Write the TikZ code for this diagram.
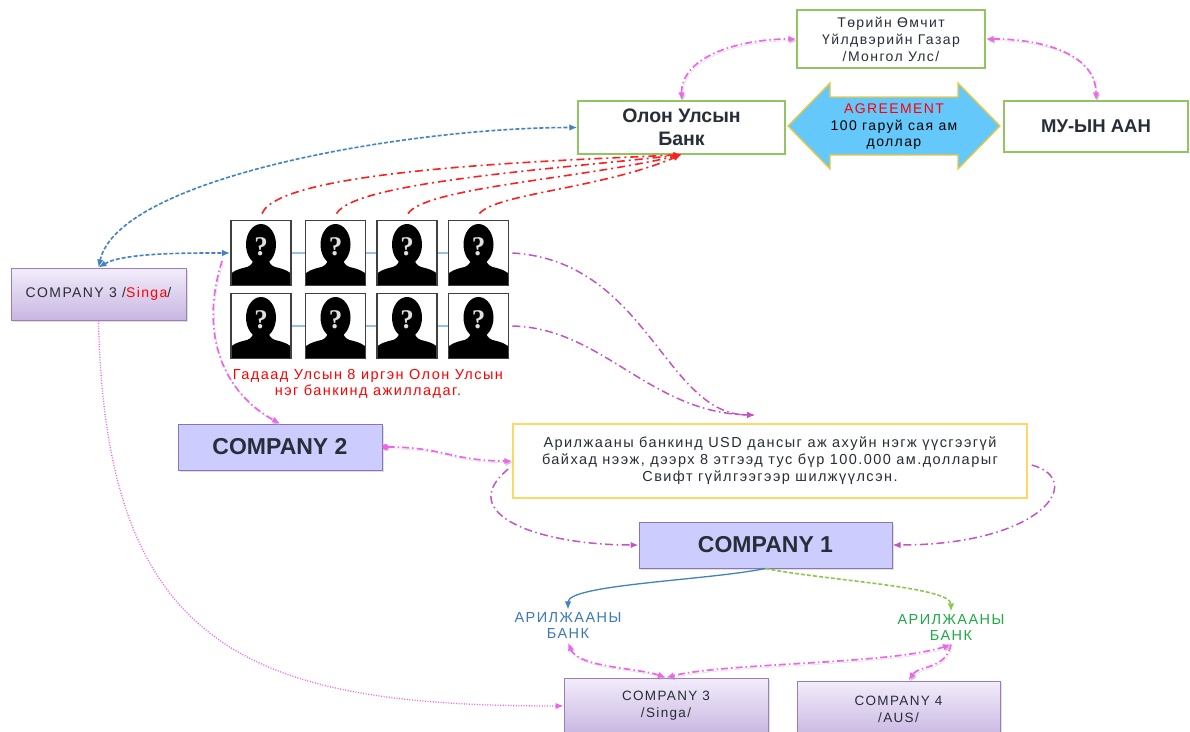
\documentclass[tikz,border=0pt]{standalone}
\usepackage{fontspec}
\setmainfont{Liberation Sans}
\newfontfamily\spfont{Liberation Sans}[LetterSpace=10]
\newfontfamily\qfont{Liberation Serif}
\usetikzlibrary{arrows.meta,shadows,calc}
\definecolor{greenB}{RGB}{146,196,100}
\definecolor{agreeFill}{RGB}{100,200,250}
\definecolor{agreeDraw}{RGB}{240,200,60}
\definecolor{txt}{RGB}{40,45,55}
\definecolor{purD}{RGB}{155,125,185}
\definecolor{purT}{RGB}{242,237,250}
\definecolor{purBt}{RGB}{200,182,226}
\definecolor{lav}{RGB}{204,204,255}
\definecolor{lavD}{RGB}{140,115,180}
\definecolor{yel}{RGB}{255,215,100}
\definecolor{pinkc}{RGB}{240,100,235}
\definecolor{purc}{RGB}{195,85,195}
\definecolor{redc}{RGB}{255,30,30}
\definecolor{blueL}{RGB}{65,130,195}
\definecolor{greenL}{RGB}{140,200,80}
\definecolor{bankblue}{RGB}{60,120,190}
\definecolor{bankgreen}{RGB}{30,170,70}
\definecolor{linkblue}{RGB}{150,190,230}
\tikzset{
  smalltext/.style={font=\spfont\fontsize{14}{17}\selectfont},
  lshadow/.style={preaction={draw=black!35, opacity=0.45, transform canvas={shift={(1.2pt,-1.8pt)}}}},
  greenbox/.style={draw=greenB, line width=1.3pt, fill=white, align=center, text=txt, inner sep=0pt},
  purbox/.style={draw=purD, line width=1pt, top color=purT, bottom color=purBt, text=txt, align=center,
     inner sep=0pt, smalltext, drop shadow={opacity=0.25, shadow xshift=2pt, shadow yshift=-2pt}},
  lavbox/.style={draw=lavD, line width=1pt, fill=lav, text=txt, inner sep=0pt,
     font=\bfseries\fontsize{23}{26}\selectfont, drop shadow={opacity=0.25, shadow xshift=2pt, shadow yshift=-2pt}},
  photobox/.style={draw=black!75, line width=1.8pt, minimum width=60pt, minimum height=65pt, inner sep=0pt},
  plink/.style={draw=linkblue, line width=1.8pt},
  pinkdd/.style={draw=pinkc, line width=1.7pt, dash pattern=on 7pt off 3pt on 1.5pt off 3pt, lshadow},
  purdd/.style={draw=purc, line width=1.5pt, dash pattern=on 8pt off 3.5pt on 1.5pt off 3.5pt},
  reddd/.style={draw=redc, line width=1.6pt, dash pattern=on 8pt off 4pt on 2pt off 4pt},
  bluedash/.style={draw=blueL, line width=1.6pt, dash pattern=on 4pt off 2pt},
  bluesolid/.style={draw=blueL, line width=1.3pt},
  greendash/.style={draw=greenL, line width=1.6pt, dash pattern=on 4pt off 2pt},
  pinkdot/.style={draw=pinkc, line width=1.3pt, dash pattern=on 1pt off 1.6pt},
  photo/.pic={
    \fill[white] (-30,-32.5) rectangle (30,32.5);
    \fill[black] (-29.5,32) -- (-29.5,20) .. controls (-24,16) and (-18,15) .. (-14,14)
       .. controls (-10,12.5) and (-8,10) .. (-7,5) -- (7,5) .. controls (8,10) and (10,12.5) .. (14,14)
       .. controls (18,15) and (24,16) .. (29.5,20) -- (29.5,32) -- cycle;
    \fill[black] (0,-8.5) ellipse [x radius=15, y radius=20.5];
    \node[text=white!88!black, font=\qfont\bfseries\fontsize{27}{27}\selectfont, inner sep=0pt] (-q) at (0,-6) {?};
    \node[photobox] (-box) at (0,0) {};
  }
}
\begin{document}
\begin{tikzpicture}[x=1pt, y=-1pt, >={Latex[length=8pt,width=6.5pt]}]
\useasboundingbox (0,0) rectangle (1190,731);
\fill[white] (0,0) rectangle (1190,731);

% top boxes
\node[greenbox, minimum width=188pt, minimum height=58pt, smalltext] (T) at (891,39)
  {Төрийн Өмчит\\Үйлдвэрийн Газар\\/Монгол Улс/};
\node[greenbox, minimum width=207pt, minimum height=53pt, font=\bfseries\fontsize{19.5}{23}\selectfont] (B) at (681.5,127.5)
  {Олон Улсын\\Банк};
\node[greenbox, minimum width=184pt, minimum height=51pt, font=\bfseries\fontsize{18.5}{22}\selectfont] (M) at (1096,126.5)
  {МУ-ЫН ААН};

% agreement double arrow
\filldraw[fill=agreeFill, draw=agreeDraw, line width=1.3pt, line join=miter]
  (788,126) -- (830,83) -- (830,97) -- (958,97) -- (958,83) -- (1000,126)
  -- (958,169) -- (958,155) -- (830,155) -- (830,169) -- cycle;
\node[align=center, smalltext, font=\spfont\fontsize{14}{16.5}\selectfont, text=black] (A) at (894,127)
  {{\color{red}AGREEMENT}\\100 гаруй сая ам\\доллар};

% left company 3
\node[purbox, minimum width=175pt, minimum height=52pt] (C3L) at (98.5,294) {COMPANY 3 /{\color{red}Singa}/};

% photos
\pic (p1) at (261,253) {photo};
\pic (p2) at (335.5,253) {photo};
\pic (p3) at (407,253) {photo};
\pic (p4) at (478.5,253) {photo};
\pic (p5) at (261,326) {photo};
\pic (p6) at (335.5,326) {photo};
\pic (p7) at (407,326) {photo};
\pic (p8) at (478.5,326) {photo};
\draw[plink] (p1-box) -- (p2-box);
\draw[plink] (p2-box) -- (p3-box);
\draw[plink] (p3-box) -- (p4-box);
\draw[plink] (p5-box) -- (p6-box);
\draw[plink] (p6-box) -- (p7-box);
\draw[plink] (p7-box) -- (p8-box);

\node[align=center, text=red, smalltext, font=\spfont\fontsize{14.5}{15.5}\selectfont] (RL) at (368,384)
  {Гадаад Улсын 8 иргэн Олон Улсын\\нэг банкинд ажилладаг.};

% companies
\node[lavbox, minimum width=204pt, minimum height=46pt] (C2) at (280,447) {COMPANY 2};
\node[draw=yel, line width=1.5pt, fill=white, minimum width=514pt, minimum height=74pt, align=center, text=txt,
      smalltext, font=\spfont\fontsize{14.5}{17}\selectfont] (TB) at (770,461)
  {Арилжааны банкинд USD дансыг аж ахуйн нэгж үүсгээгүй\\байхад нээж, дээрх 8 этгээд тус бүр 100.000 ам.долларыг\\Свифт гүйлгээгээр шилжүүлсэн.};
\node[lavbox, minimum width=253pt, minimum height=46pt] (C1) at (765.5,545) {COMPANY 1};

\node[align=center, text=bankblue, smalltext, font=\spfont\fontsize{14.5}{16}\selectfont] (BL) at (568,626) {АРИЛЖААНЫ\\БАНК};
\node[align=center, text=bankgreen, smalltext, font=\spfont\fontsize{14.5}{16}\selectfont] (BR) at (951,628) {АРИЛЖААНЫ\\БАНК};

\node[purbox, minimum width=204pt, minimum height=56pt, font=\spfont\fontsize{13.5}{17}\selectfont] (C3B) at (666,706) {COMPANY 3\\/Singa/};
\node[purbox, minimum width=203pt, minimum height=56pt, font=\spfont\fontsize{13.5}{17}\selectfont] (C4) at (898.5,709) {COMPANY 4\\/AUS/};

% connectors
\coordinate (tbin) at (755,415);
\draw[pinkdd, <->] (B.north) .. controls +(0,-45) and +(-55,0) .. (T.west);
\draw[pinkdd, <->] (T.east) .. controls +(60,0) and +(0,-45) .. (M.north);
\draw[bluedash, <->] (C3L.north) .. controls +(20,-90) and +(-170,0) .. (B.west);
\draw[bluedash, <->] (C3L.north) .. controls +(25,-15) and +(-40,0) .. (p1-box.west);

\draw[reddd, ->] ($(p1-box.north)+(1,-6)$) .. controls +(18,-45) and +(-120,6) .. (B.south);
\draw[reddd, ->] ($(p2-box.north)+(1,-6)$) .. controls +(18,-32) and +(-120,14) .. (B.south);
\draw[reddd, ->] ($(p3-box.north)+(1,-6)$) .. controls +(17,-26) and +(-100,24) .. (B.south);
\draw[reddd, ->] ($(p4-box.north)+(1,-6)$) .. controls +(16,-20) and +(-80,34) .. (B.south);

\draw[pinkdd, ->] ($(p1-box.west)+(-8,8)$) .. controls +(-24,75) and +(-55,-30) .. (C2.north);
\draw[purdd, ->] ($(p4-box.east)+(3,0)$) .. controls +(135,8) and +(-90,0) .. (tbin);
\draw[purdd, ->] ($(p8-box.east)+(3,0)$) .. controls +(90,2) and +(-105,-2) .. (tbin);

\draw[pinkdd, {Circle[length=6pt]}->] (C2.east) .. controls +(60,0) and +(-60,0) .. (TB.west);
\draw[purdd, ->] ($(TB.west)+(-4,8)$) .. controls +(-55,45) and +(-100,0) .. (C1.west);
\draw[purdd, ->] ($(TB.east)+(4,4)$) .. controls +(55,15) and +(150,0) .. (C1.east);

\draw[bluesolid, ->] (C1.south) .. controls +(-60,12) and +(0,-25) .. (BL.north);
\draw[greendash, ->] (C1.south) .. controls +(60,12) and +(0,-25) .. (BR.north);

\draw[pinkdd, <->] (BL.south) .. controls +(10,25) and +(-30,-10) .. (C3B.north);
\draw[pinkdd, <->] (BR.south) .. controls +(-60,20) and +(60,-15) .. (C3B.north);
\draw[pinkdd, ->] (BR.south) .. controls +(-5,25) and +(10,-15) .. ($(C4.north)+(10,0)$);

\draw[pinkdot, ->] (C3L.south) .. controls +(7,330) and +(-314,0) .. (C3B.west);
\end{tikzpicture}
\end{document}
